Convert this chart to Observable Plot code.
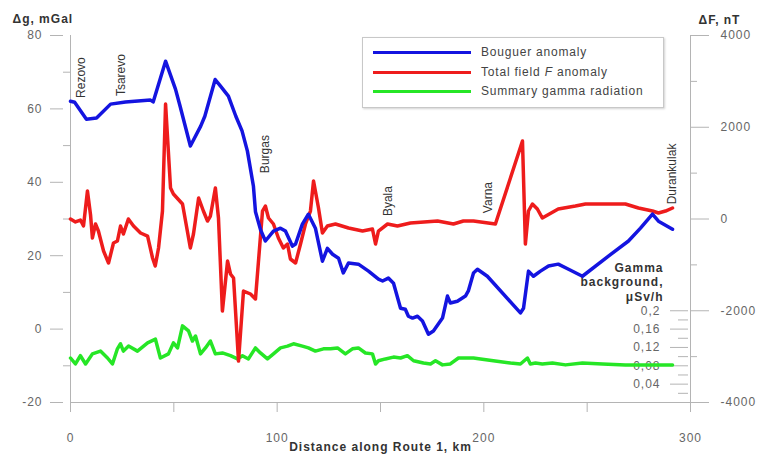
<!DOCTYPE html>
<html><head><meta charset="utf-8">
<script src="https://cdn.jsdelivr.net/npm/d3@7"></script>
<script src="https://cdn.jsdelivr.net/npm/@observablehq/plot@0.6"></script>
<style>
body{margin:0;background:#fff;}
#wrap{position:relative;width:760px;height:459px;font-family:"Liberation Sans",Arial,sans-serif;}
#legend{position:absolute;left:362px;top:37px;width:300px;height:69px;border:1px solid #c8c8c8;box-shadow:1px 1px 2px rgba(0,0,0,0.18);background:#fff;font-size:12px;letter-spacing:0.8px;color:#444;}
.row{position:absolute;left:0;height:16px;display:flex;align-items:center;white-space:nowrap;}
.row .sw{display:inline-block;width:98px;height:3px;margin-left:10px;margin-right:10px;}
.place text{letter-spacing:0;}
</style></head>
<body><div id="wrap"></div>
<script>
// ---- Bouguer anomaly (mGal) ----
const blueKm = [0,2,7.7,12.6,19.4,26.6,38.7,40,46,50.8,53,58,63,65,70,72.6,76.4,80,83,85.6,88.5,89.5,92,94.3,98.2,101.6,104,107.4,108.9,112.2,115.1,118.5,121.9,124.3,126.8,129.7,132,134.5,139.3,144.2,149,151,153.8,156.3,159.7,162,163.5,165.5,167.9,170.3,173.2,175.6,180,182.4,183.8,187.2,191.1,192.5,195,196.9,201.7,217.7,219.2,221.6,224,227.4,231.3,236,241,247.7,260.3,270,275.8,281.6,284.5,291.3];
const blueVal = [62.1,61.8,57.2,57.5,61.3,61.9,62.4,61.9,73,65.4,60.8,49.9,55.3,58,68,66.2,63.5,58,54,48.5,39,32,27,24,26.7,27.5,26.7,22.6,23.2,28.6,31.3,27.5,18.5,22,20.4,19.3,15.3,18,17.7,15.8,13.6,13.1,13.9,12.5,5.7,5.4,3.5,3,3.5,2.2,-1.4,-0.5,3,9,7.1,7.6,9,10.4,15.3,16.3,14.4,4.4,5.7,15.8,14.4,15.8,17.2,17.7,16.3,14.4,19.9,24,27.5,31.3,29.4,27.2];

// ---- Total field F anomaly (nT) ----
const redKm = [0,2.4,4.8,6.3,8.2,9.7,10.6,12.1,13.5,16,18.4,20.8,22.7,24.2,25.6,28,30.5,33.9,37.3,39.7,41,42.6,44.5,46,48.4,49.8,54.2,58,59.5,62,64.3,66.3,67.7,70.1,71.6,73.5,76,77.4,78.9,81.3,83.7,87.1,89.5,92.9,94.3,95.8,98.2,100.6,103,105,106.4,108.9,111.3,113.7,116.1,117.6,120,121.9,124.3,128.2,134.5,141.3,146.1,147.6,149,153.4,158.2,164.5,177.6,185.3,190.1,195,205.6,218.7,220.1,221.6,223.5,225.9,228.3,236,244.3,249.2,268.5,274.8,281.6,284.5,287.9,291.3];
const redVal = [0,-65,-22,-150,610,87,-414,-109,-262,-698,-959,-523,-480,-153,-327,0,-153,-305,-371,-850,-1025,-632,174,2507,676,545,327,-632,-327,458,174,-44,65,676,22,-2005,-916,-1199,-1286,-3096,-1570,-1635,-1744,174,283,22,-109,-414,-632,-545,-872,-959,-545,-109,174,828,240,-305,-153,-109,-196,-262,-218,-545,-262,-109,-153,-87,-44,-109,-44,-44,-109,1700,-545,174,327,218,22,218,283,327,327,240,174,131,174,240];

// ---- Summary gamma radiation (µSv/h) ----
const greenKm = [0,2.4,4.8,7.3,10.6,14.5,17.9,20.3,22.7,24.2,25.6,28.1,32.4,37.3,41.1,43.5,47.4,49.8,51.8,54.2,57.1,59,60.5,62.9,65.3,67.7,70.1,73.5,77.4,80.8,83.2,86.1,89.5,91.9,95.3,98.2,101.6,105,107.9,112.2,115.1,118.5,122.4,125.8,129.2,133,136.4,139.3,142.7,146.1,147.6,149,152.4,156.3,159.7,163,166,170.8,174.2,176.6,180,183.8,187.7,192.1,195,198.4,204.6,212.9,217.7,221.1,222.5,225,228.3,233.2,239.5,247.7,257.4,268.5,284.5,291.3];
const greenVal = [0.097,0.084,0.102,0.084,0.106,0.112,0.097,0.084,0.117,0.128,0.112,0.123,0.112,0.130,0.138,0.097,0.106,0.130,0.119,0.167,0.156,0.134,0.145,0.106,0.119,0.134,0.106,0.108,0.102,0.095,0.102,0.095,0.119,0.108,0.095,0.106,0.119,0.123,0.128,0.123,0.119,0.112,0.117,0.117,0.119,0.106,0.117,0.119,0.108,0.106,0.084,0.091,0.095,0.099,0.097,0.102,0.091,0.086,0.084,0.091,0.082,0.084,0.097,0.097,0.097,0.095,0.091,0.086,0.084,0.097,0.084,0.086,0.084,0.086,0.082,0.086,0.084,0.082,0.082,0.082];

// ---- places along the route ----
const placeNames = ["Rezovo","Tsarevo","Burgas","Byala","Varna","Durankulak"];
const placeKm = [5,24.7,94.3,153.8,202,291];
const placeLabelY = [63,63.5,42.5,30.8,31.6,34];

// ---- ticks ----
const xTicks = [0,50,100,150,200,250,300];
const leftTicks = [-20,0,20,40,60,80];
const leftMinor = [-10,10,30,50,70];
const rightTicks = [-4000,-2000,0,2000,4000];
const rightMinor = [-3000,-1000,1000,3000];
const gammaTicks = [0.04,0.08,0.12,0.16,0.2];
const gammaMinor = [0.02,0.06,0.1,0.14,0.18];

const seriesLabels = ["Bouguer anomaly","Total field <i>F</i> anomaly","Summary gamma radiation"];
const seriesColors = ["#1414e0","#ee1c1c","#26e626"];

// map secondary units onto the mGal scale (−20…80)
const fToY = f => 30 + f/80;          // −4000…4000 nT
const gToY = g => -20 + g*125;        // 0…0.8 µSv/h
const yToF = y => Math.round((y-30)*80);
const yToG = y => (y+20)/125;

const blue = blueKm.map((k,i)=>({km:k, v:blueVal[i]}));
const red = redKm.map((k,i)=>({km:k, v:fToY(redVal[i])}));
const green = greenKm.map((k,i)=>({km:k, v:gToY(greenVal[i])}));
const places = placeNames.map((n,i)=>({name:n, km:placeKm[i], y:placeLabelY[i]}));

const axisCol = "#b4b4b4", labCol = "#666", titleCol = "#333";

const chart = Plot.plot({
  width:760, height:459,
  marginLeft:70, marginRight:70, marginTop:35, marginBottom:57,
  x:{domain:[0,300]},
  y:{domain:[-20,80], label:null},
  style:{fontFamily:"'Liberation Sans', Arial, sans-serif", fontSize:"12px", letterSpacing:"1px", background:"#fff"},
  marks:[
    Plot.ruleX([0], {y1:-20, y2:80, stroke:axisCol}),
    Plot.ruleX([300], {y1:-20, y2:80, stroke:axisCol}),
    Plot.ruleY([-20], {stroke:axisCol}),
    Plot.axisX(xTicks, {anchor:"bottom", tickSize:10, tickPadding:21, stroke:axisCol, fill:labCol, tickFormat:d => d%100===0 ? String(d) : "", label:null}),
    Plot.axisY(leftTicks, {anchor:"left", tickSize:13, dx:-7, tickPadding:8, stroke:axisCol, fill:labCol, tickFormat:d=>String(d), label:null}),
    Plot.axisY(leftMinor, {anchor:"left", tickSize:7, stroke:axisCol, tickFormat:()=>"", label:null}),
    Plot.axisY(rightTicks.map(fToY), {anchor:"right", tickSize:18, tickPadding:12, stroke:axisCol, fill:labCol, tickFormat:d=>String(yToF(d)), label:null}),
    Plot.axisY(rightMinor.map(fToY), {anchor:"right", tickSize:6, stroke:axisCol, tickFormat:()=>"", label:null}),
    Plot.axisY(gammaTicks.map(gToY), {anchor:"left", dx:618, tickSize:18, tickPadding:10, stroke:axisCol, fill:labCol, tickFormat:d=>String(+yToG(d).toFixed(2)).replace(".",","), label:null}),
    Plot.axisY(gammaMinor.map(gToY), {anchor:"left", dx:618, tickSize:10, stroke:axisCol, tickFormat:()=>"", label:null}),
    Plot.text(["Gamma\nbackground,\nμSv/h"], {frameAnchor:"bottom-right", dx:-27, dy:-121, textAnchor:"end", lineAnchor:"middle", lineHeight:1.2, fontWeight:"bold", fill:titleCol}),
    Plot.text(["Δg, mGal"], {frameAnchor:"top-left", dx:-58, dy:-21, textAnchor:"start", fontWeight:"bold", fill:titleCol}),
    Plot.text(["ΔF, nT"], {frameAnchor:"top-right", dx:8, dy:-20, textAnchor:"start", fontWeight:"bold", fill:titleCol}),
    Plot.text(["Distance along Route 1, km"], {frameAnchor:"bottom", dy:48, fontWeight:"bold", fill:titleCol}),
    Plot.text(places, {x:"km", y:"y", text:"name", rotate:-90, textAnchor:"start", lineAnchor:"middle", fill:"#333", className:"place"}),
    Plot.line(green, {x:"km", y:"v", stroke:seriesColors[2], strokeWidth:3.5, strokeLinejoin:"round"}),
    Plot.line(red, {x:"km", y:"v", stroke:seriesColors[1], strokeWidth:3.5, strokeLinejoin:"round"}),
    Plot.line(blue, {x:"km", y:"v", stroke:seriesColors[0], strokeWidth:3.5, strokeLinejoin:"round"})
  ]
});

const wrap = document.getElementById("wrap");
wrap.appendChild(chart);
const lg = document.createElement("div");
lg.id = "legend";
const rowTops = [6,26,45];
seriesLabels.forEach((t,i)=>{
  const r = document.createElement("div");
  r.className = "row";
  r.style.top = rowTops[i] + "px";
  r.innerHTML = `<span class="sw" style="background:${seriesColors[i]}"></span><span>${t}</span>`;
  lg.appendChild(r);
});
wrap.appendChild(lg);
</script></body></html>
